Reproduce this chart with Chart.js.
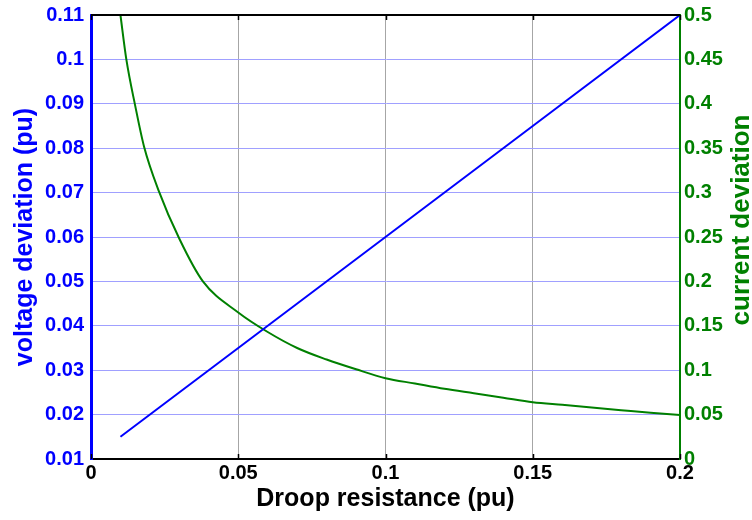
<!DOCTYPE html>
<html lang="en">
<head>
<meta charset="UTF-8">
<title>Droop resistance</title>
<script src="https://cdn.jsdelivr.net/npm/chart.js@4.4.0/dist/chart.umd.min.js"></script>
<style>
    body { margin: 0; background: #ffffff; }
    #wrap { width: 752px; height: 520px; position: relative; }
</style>
</head>
<body>
<div id="wrap"><canvas id="myChart"></canvas></div>
<script>
// values
const droopR = [0.01, 0.012, 0.015, 0.018, 0.023, 0.03, 0.038, 0.05, 0.06, 0.07, 0.08, 0.09, 0.1,
                0.11, 0.12, 0.13, 0.14, 0.15, 0.16, 0.17, 0.18, 0.19, 0.2];
const currentDev = [0.5, 0.45, 0.398, 0.352, 0.302, 0.248, 0.2, 0.165, 0.143, 0.125, 0.112, 0.101, 0.091,
                    0.085, 0.079, 0.074, 0.069, 0.064, 0.061, 0.058, 0.055, 0.052, 0.0495];
const voltageR = [0.01, 0.05, 0.1, 0.15, 0.2];
const voltageDev = [0.015, 0.035, 0.06, 0.085, 0.11];

const xTickLabels = ['0', '0.05', '0.1', '0.15', '0.2'];
const leftTickLabels = ['0.01', '0.02', '0.03', '0.04', '0.05', '0.06', '0.07', '0.08', '0.09', '0.1', '0.11'];
const rightTickLabels = ['0', '0.05', '0.1', '0.15', '0.2', '0.25', '0.3', '0.35', '0.4', '0.45', '0.5'];

const BLUE = '#0000ff';
const GREEN = '#008000';
const FONT = '"Liberation Sans", Arial, sans-serif';

function setTicks(labels) {
    return function (scale) {
        scale.ticks = labels.map(l => ({ value: parseFloat(l) }));
    };
}
function fmt(labels) {
    return function (value) {
        const hit = labels.find(l => Math.abs(parseFloat(l) - value) < 1e-9);
        return hit !== undefined ? hit : '';
    };
}
// fixed axis box size, no extra label overflow padding
function fixSize(w, h) {
    return function (s) {
        if (w) s.width = w;
        if (h) s.height = h;
        s.paddingTop = 0; s.paddingBottom = 0;
        s.paddingLeft = 0; s.paddingRight = 0;
    };
}

// top border, inward tick marks and the right-hand title (reads bottom to top)
const frame = {
    id: 'frame',
    afterDraw(chart) {
        const { ctx, chartArea: a, scales } = chart;
        ctx.save();
        ctx.strokeStyle = '#000';
        ctx.lineWidth = 2;
        ctx.beginPath();
        ctx.moveTo(a.left, a.top);
        ctx.lineTo(a.right, a.top);
        ctx.stroke();
        ctx.lineWidth = 1.5;
        xTickLabels.forEach(l => {
            const px = Math.round(scales.x.getPixelForValue(parseFloat(l))) + 0.5;
            ctx.beginPath();
            ctx.moveTo(px, a.bottom); ctx.lineTo(px, a.bottom - 5);
            ctx.moveTo(px, a.top); ctx.lineTo(px, a.top + 5);
            ctx.stroke();
        });
        ctx.translate(a.right + 62, (a.top + a.bottom) / 2 - 17);
        ctx.rotate(-Math.PI / 2);
        ctx.font = 'bold 26px ' + FONT;
        ctx.fillStyle = GREEN;
        ctx.textAlign = 'center';
        ctx.textBaseline = 'middle';
        ctx.fillText('current deviation', 0, 0);
        ctx.restore();
    }
};

const config = {
    type: 'line',
    data: {
        datasets: [{
            label: 'voltage deviation',
            data: voltageR.map((r, i) => ({ x: r, y: voltageDev[i] })),
            borderColor: BLUE,
            borderWidth: 2,
            pointRadius: 0,
            yAxisID: 'y'
        }, {
            label: 'current deviation',
            data: droopR.map((r, i) => ({ x: r, y: currentDev[i] })),
            borderColor: GREEN,
            borderWidth: 2,
            pointRadius: 0,
            cubicInterpolationMode: 'monotone',
            yAxisID: 'y1'
        }]
    },
    options: {
        responsive: true,
        maintainAspectRatio: false,
        animation: false,
        layout: { padding: { top: 15, left: 0, right: 0, bottom: 0 } },
        plugins: { legend: { display: false }, tooltip: { enabled: false } },
        scales: {
            x: {
                type: 'linear',
                min: 0, max: 0.2,
                afterBuildTicks: setTicks(xTickLabels),
                afterFit: fixSize(0, 61),
                grid: { color: '#a6a6a6', lineWidth: 1, drawTicks: false },
                border: { color: '#000', width: 2 },
                ticks: { color: '#000', padding: 2, font: { family: FONT, size: 20, weight: 'bold' }, callback: fmt(xTickLabels), maxRotation: 0 },
                title: { display: true, text: 'Droop resistance (pu)', color: '#000',
                         font: { family: FONT, size: 25, weight: 'bold', lineHeight: 0.8 }, padding: { top: 0, bottom: 11 } }
            },
            y: {
                position: 'left',
                min: 0.01, max: 0.11,
                afterBuildTicks: setTicks(leftTickLabels),
                afterFit: fixSize(91, 0),
                grid: { color: '#a0a0ff', lineWidth: 1, drawTicks: false },
                border: { color: BLUE, width: 3 },
                ticks: { color: BLUE, padding: 7, font: { family: FONT, size: 20, weight: 'bold' }, callback: fmt(leftTickLabels) },
                title: { display: true, text: 'voltage deviation (pu)', color: BLUE,
                         font: { family: FONT, size: 25, weight: 'bold', lineHeight: 0.8 }, padding: { top: 15, bottom: 0 } }
            },
            y1: {
                position: 'right',
                min: 0, max: 0.5,
                afterBuildTicks: setTicks(rightTickLabels),
                afterFit: fixSize(72, 0),
                grid: { drawOnChartArea: false, drawTicks: false },
                border: { color: GREEN, width: 2 },
                ticks: { color: GREEN, padding: 4, font: { family: FONT, size: 20, weight: 'bold' }, callback: fmt(rightTickLabels) }
            }
        }
    },
    plugins: [frame]
};

var myChart = new Chart(document.getElementById('myChart'), config);
</script>
</body>
</html>
